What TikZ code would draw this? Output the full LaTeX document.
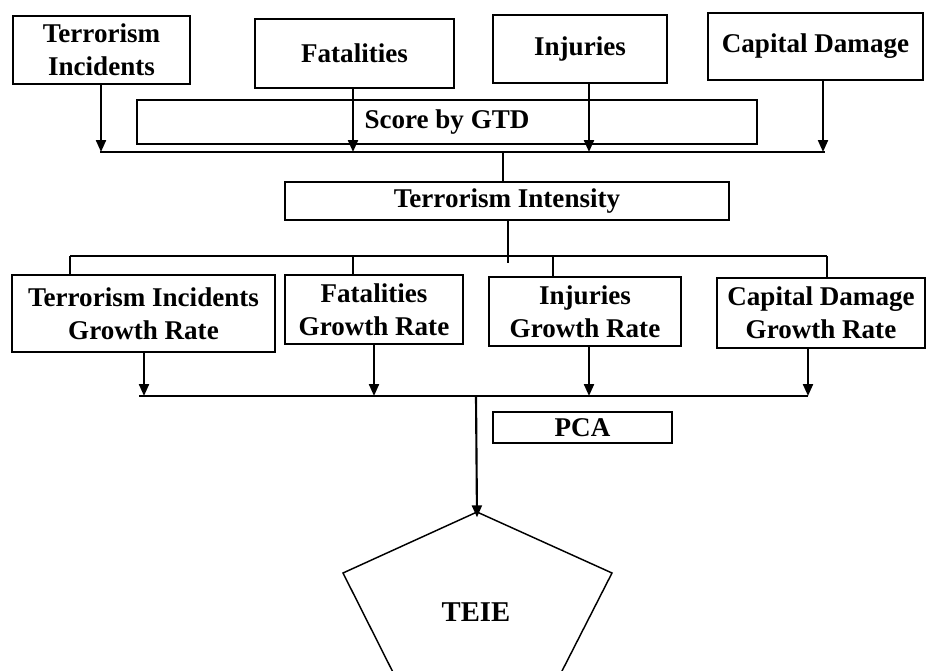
\documentclass[tikz,border=0pt]{standalone}
\usepackage{fontspec}
\setmainfont{Liberation Serif}
\usetikzlibrary{arrows.meta}
\begin{document}
\begin{tikzpicture}[x=0.75pt,y=-0.75pt,
  box/.style 2 args={draw, line width=2.2pt, inner sep=0pt, outer sep=0pt,
    minimum width=#1*0.75pt, minimum height=#2*0.75pt, align=center,
    font=\fontsize{20.3}{24.5}\selectfont\bfseries},
  link/.style={line width=1.6pt},
  arr/.style={link, -{Triangle[length=9pt,width=7.5pt]}}]
\useasboundingbox (0,0) rectangle (929,671);

% input measures
\node[box={177}{68}] (ti) at (101.5,50) {Terrorism\\Incidents};
\node[box={199}{69}] (fa) at (354.5,53.5) {Fatalities};
\node[box={174}{68}] (in) at (580,49) {Injuries};
\node[box={215}{67}] (cd) at (815.5,46.5) {Capital Damage};
\node[box={620}{44}] (gtd) at (447,122) {Score by GTD};

% first collecting line
\coordinate (b1a) at (101,152);
\coordinate (b1b) at (353,152);
\coordinate (b1c) at (589,152);
\coordinate (b1d) at (823,152);
\coordinate (b1m) at (503,152);
\draw[link] (100,152) -- (825,152);
\draw[arr] (ti.south -| b1a) -- (b1a);
\draw[arr] (fa.south -| b1b) -- (b1b);
\draw[arr] (in.south -| b1c) -- (b1c);
\draw[arr] (cd.south -| b1d) -- (b1d);

% intensity
\node[box={444}{38}] (tint) at (507,201) {Terrorism Intensity};
\draw[link] (b1m) -- (tint.north -| b1m);

% distribution line
\coordinate (b2m) at (508,256);
\coordinate (b2a) at (70,256);
\coordinate (b2b) at (353,256);
\coordinate (b2c) at (553,256);
\coordinate (b2d) at (827,256);
\draw[link] (b2a) -- (b2d);
\draw[link] (tint.south -| b2m) -- ([yshift=-5pt]b2m);

% growth rates
\node[box={263}{77}] (g1) at (143.5,313.5) {Terrorism Incidents\\Growth Rate};
\node[box={178}{69}] (g2) at (374,309.5) {Fatalities\\Growth Rate};
\node[box={192}{69}] (g3) at (585,311.5) {Injuries\\Growth Rate};
\node[box={208}{70}] (g4) at (821,313) {Capital Damage\\Growth Rate};
\draw[link] (b2a) -- (g1.north -| b2a);
\draw[link] (b2b) -- (g2.north -| b2b);
\draw[link] (b2c) -- (g3.north -| b2c);
\draw[link] (b2d) -- (g4.north -| b2d);

% second collecting line
\coordinate (b3a) at (144,396);
\coordinate (b3b) at (374,396);
\coordinate (b3c) at (589,396);
\coordinate (b3d) at (808,396);
\coordinate (b3m) at (476,396);
\draw[link] (139,396) -- (b3d);
\draw[arr] (g1.south -| b3a) -- (b3a);
\draw[arr] (g2.south -| b3b) -- (b3b);
\draw[arr] (g3.south -| b3c) -- (b3c);
\draw[arr] (g4.south -| b3d) -- (b3d);

\node[box={179}{31}] (pca) at (582.5,427.5) {PCA};

% index pentagon
\begin{scope}
\clip (0,0) rectangle (929,671);
\draw[line width=1.1pt, line join=miter]
  (477,512) coordinate (ptop) -- (612,573) -- (537,720) -- (417,720) -- (343,573) -- cycle;
\end{scope}
\node[font=\fontsize{21.5}{24}\selectfont\bfseries] (teie) at (476,612) {TEIE};
\draw[arr] (b3m) -- ([yshift=-4pt]ptop);
\end{tikzpicture}
\end{document}
